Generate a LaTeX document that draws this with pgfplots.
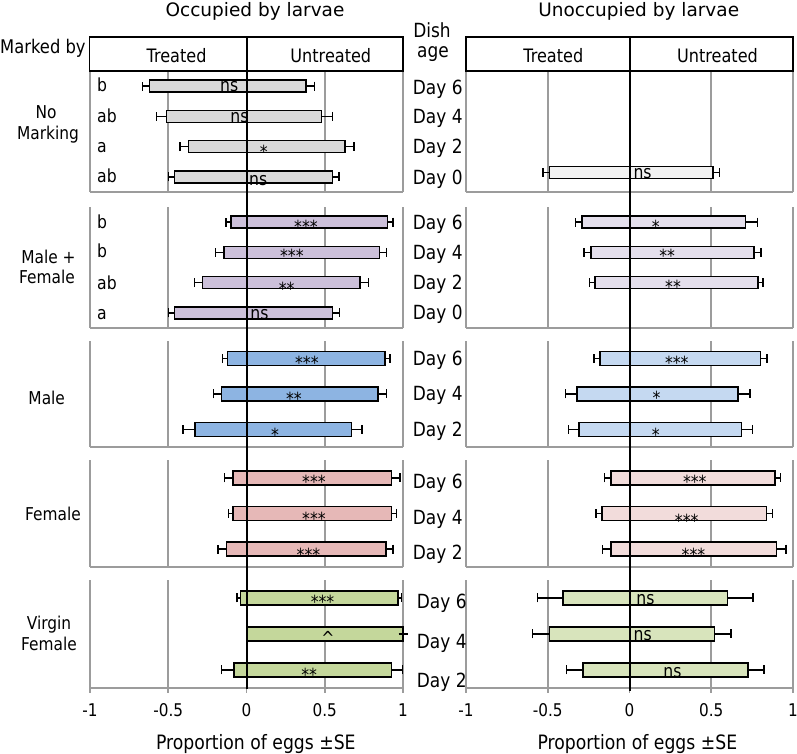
\documentclass[border=0pt]{standalone}
\usepackage{fontspec}
\setmainfont{DejaVu Sans}
\newfontfamily\cf{DejaVu Sans}[FakeStretch=0.87]
\usepackage{pgfplots}
\usepackage{pgfplotstable}
\pgfplotsset{compat=1.18}

\definecolor{gridgray}{HTML}{9C9C9C}
\definecolor{noA}{HTML}{D9D9D9}
\definecolor{noB}{HTML}{F2F2F2}
\definecolor{mfA}{HTML}{CCC0DA}
\definecolor{mfB}{HTML}{E4DFEC}
\definecolor{mA}{HTML}{8DB4E2}
\definecolor{mB}{HTML}{C5D9F1}
\definecolor{fA}{HTML}{E6B8B7}
\definecolor{fB}{HTML}{F2DCDB}
\definecolor{vA}{HTML}{C4D79B}
\definecolor{vB}{HTML}{D8E4BC}

% d = dish age slot (0 = Day 0 or Day 2 at the bottom), t = treated (negative), u = untreated
\pgfplotstableread{
d t te u ue
3 -0.62 0.045 0.38 0.055
2 -0.51 0.065 0.48 0.068
1 -0.37 0.055 0.63 0.057
0 -0.46 0.040 0.55 0.042
}\occNo
\pgfplotstableread{
d t te u ue
0 -0.49 0.038 0.51 0.040
}\unoNo
\pgfplotstableread{
d t te u ue
3 -0.10 0.032 0.90 0.036
2 -0.145 0.053 0.85 0.046
1 -0.28 0.053 0.725 0.055
0 -0.46 0.040 0.55 0.044
}\occMF
\pgfplotstableread{
d t te u ue
3 -0.29 0.041 0.71 0.074
2 -0.235 0.043 0.76 0.043
1 -0.21 0.035 0.785 0.031
}\unoMF
\pgfplotstableread{
d t te u ue
2 -0.12 0.032 0.885 0.032
1 -0.16 0.051 0.84 0.055
0 -0.33 0.076 0.67 0.067
}\occM
\pgfplotstableread{
d t te u ue
2 -0.18 0.037 0.80 0.040
1 -0.32 0.071 0.665 0.073
0 -0.31 0.063 0.685 0.067
}\unoM
\pgfplotstableread{
d t te u ue
2 -0.085 0.054 0.925 0.055
1 -0.085 0.030 0.925 0.032
0 -0.128 0.054 0.89 0.045
}\occF
\pgfplotstableread{
d t te u ue
2 -0.113 0.041 0.889 0.033
1 -0.167 0.039 0.838 0.037
0 -0.113 0.052 0.90 0.057
}\unoF
% Day 4: all eggs on untreated, no treated bar
\pgfplotstableread{
d t te u ue
2 -0.038 0.022 0.968 0.022
1 nan 0 1.0 0
0 -0.081 0.079 0.925 0.072
}\occV
\pgfplotstableread{
d t te u ue
2 -0.407 0.155 0.60 0.155
1 -0.488 0.105 0.52 0.100
0 -0.284 0.100 0.725 0.097
}\unoV

\pgfplotsset{
  panel/.style={
    scale only axis, anchor=north west, clip=false,
    xmin=-1, xmax=1, ymin=-0.5,
    axis y line=none, axis x line*=bottom,
    x axis line style={draw=gridgray, line width=1.6pt, -},
    xtick={-1,-0.5,0,0.5,1}, xticklabels={}, ytick=\empty,
    xtick style={draw=none},
    xmajorgrids, major grid style={draw=gridgray, line width=1.6pt},
  },
  bottomticks/.style={tick align=outside, major tick length=5pt,
    xtick style={draw=gridgray, line width=1.6pt}},
  bars/.style={xbar, bar shift=0pt, draw=black, line width=1.5pt,
    error bars/error mark=|,
    error bars/error bar style={line width=1.5pt, black},
    error bars/error mark options={black, line width=1.5pt, mark size=4.5pt}},
}

\newcommand\twobars[3]{%
  \addplot[bars, fill=#2, bar width=#3, error bars/.cd, x dir=minus, x explicit]
    table[x=t, y=d, x error=te] {#1};
  \addplot[bars, fill=#2, bar width=#3, error bars/.cd, x dir=plus, x explicit]
    table[x=u, y=d, x error=ue] {#1};
}
\newcommand\sig[4]{\node[anchor=base, inner sep=0pt, yshift=-#3pt,
  font=\cf\fontsize{18}{20}\selectfont] at (axis cs:#1,#2) {#4};}
\newcommand\ticks{%
  \node[tl] at (axis cs:-1,-0.5) {-1};
  \node[tl] at (axis cs:-0.5,-0.5) {-0.5};
  \node[tl] at (axis cs:0,-0.5) {0};
  \node[tl] at (axis cs:0.5,-0.5) {0.5};
  \node[tl] at (axis cs:1,-0.5) {1};}

\tikzset{
  lab/.style={font=\cf\fontsize{17.7}{20}\selectfont, inner sep=0pt},
  day/.style={font=\cf\fontsize{19.5}{22}\selectfont, inner sep=0pt, anchor=base west},
  let/.style={font=\cf\fontsize{18}{20}\selectfont, inner sep=0pt, anchor=base west},
  tl/.style={font=\cf\fontsize{17.5}{19}\selectfont, inner sep=0pt, anchor=base, yshift=-28.7pt},
}

\begin{document}
\begin{tikzpicture}[x=1pt, y=1pt]
\useasboundingbox (0pt,0pt) rectangle (797pt,754pt);

% ---- occupied (left column)
\begin{axis}[panel, at={(90pt,683pt)}, width=313pt, height=121pt, ymax=3.5]
\twobars{\occNo}{noA}{12pt}
\sig{-0.11}{3}{5.7}{ns}
\sig{-0.045}{2}{6}{ns}
\sig{0.11}{1}{12}{*}
\sig{0.075}{0}{9}{ns}
\end{axis}
\begin{axis}[panel, at={(90pt,547pt)}, width=313pt, height=121pt, ymax=3.5]
\twobars{\occMF}{mfA}{12pt}
\sig{0.38}{3}{11}{***}
\sig{0.29}{2}{10.5}{***}
\sig{0.257}{1}{12.5}{**}
\sig{0.083}{0}{6.6}{ns}
\end{axis}
\begin{axis}[panel, at={(90pt,413pt)}, width=313pt, height=106pt, ymax=2.5]
\twobars{\occM}{mA}{14pt}
\sig{0.386}{2}{11}{***}
\sig{0.303}{1}{12}{**}
\sig{0.182}{0}{12}{*}
\end{axis}
\begin{axis}[panel, at={(90pt,294pt)}, width=313pt, height=107pt, ymax=2.5]
\twobars{\occF}{fA}{14pt}
\sig{0.431}{2}{10.5}{***}
\sig{0.431}{1}{12.3}{***}
\sig{0.396}{0}{12.8}{***}
\end{axis}
\begin{axis}[panel, bottomticks, at={(90pt,174pt)}, width=313pt, height=108pt, ymax=2.5]
\twobars{\occV}{vA}{14pt}
\sig{0.486}{2}{10.8}{***}
\sig{0.52}{1}{11}{\textasciicircum}
\sig{0.40}{0}{11.3}{**}
\ticks
\end{axis}

% ---- unoccupied (right column)
\begin{axis}[panel, at={(466pt,683pt)}, width=327pt, height=121pt, ymin=-0.65, ymax=3.35]
\twobars{\unoNo}{noB}{12pt}
\sig{0.08}{0}{6}{ns}
\end{axis}
\begin{axis}[panel, at={(466pt,547pt)}, width=327pt, height=121pt, ymax=3.5]
\twobars{\unoMF}{mfB}{12pt}
\sig{0.16}{3}{11.5}{*}
\sig{0.23}{2}{10.5}{**}
\sig{0.266}{1}{10.5}{**}
\end{axis}
\begin{axis}[panel, at={(466pt,413pt)}, width=327pt, height=106pt, ymax=2.5]
\twobars{\unoM}{mB}{14pt}
\sig{0.289}{2}{10.5}{***}
\sig{0.166}{1}{10.7}{*}
\sig{0.16}{0}{11.7}{*}
\end{axis}
\begin{axis}[panel, at={(466pt,294pt)}, width=327pt, height=107pt, ymax=2.5]
\twobars{\unoF}{fB}{14pt}
\sig{0.399}{2}{11}{***}
\sig{0.35}{1}{13.7}{***}
\sig{0.391}{0}{12.8}{***}
\end{axis}
\begin{axis}[panel, bottomticks, at={(466pt,174pt)}, width=327pt, height=108pt, ymax=2.5]
\twobars{\unoV}{vB}{14pt}
\sig{0.097}{2}{6.3}{ns}
\sig{0.081}{1}{6.3}{ns}
\sig{0.263}{0}{7.7}{ns}
\ticks
\end{axis}

% ---- header boxes and zero lines
\draw[line width=1.6pt] (89.5pt,717pt) rectangle (403pt,683pt);
\draw[line width=1.6pt] (466pt,717pt) rectangle (793pt,683pt);
\draw[line width=2pt] (246.5pt,717pt) -- (246.5pt,65pt);
\draw[line width=2pt] (629.5pt,717pt) -- (629.5pt,63pt);

% ---- titles
\node[anchor=base, inner sep=0pt, font=\fontsize{18.5}{22}\selectfont] at (255pt,737pt) {Occupied by larvae};
\node[anchor=base, inner sep=0pt, font=\fontsize{18.5}{22}\selectfont] at (638.7pt,737pt) {Unoccupied by larvae};
\node[lab, anchor=base, font=\cf\fontsize{18.5}{20}\selectfont] at (176.5pt,691.3pt) {Treated};
\node[lab, anchor=base, font=\cf\fontsize{18.5}{20}\selectfont] at (330.8pt,691.3pt) {Untreated};
\node[lab, anchor=base, font=\cf\fontsize{18.5}{20}\selectfont] at (553.3pt,691.3pt) {Treated};
\node[lab, anchor=base, font=\cf\fontsize{18.5}{20}\selectfont] at (717.5pt,691.3pt) {Untreated};

% ---- row labels
\node[lab, anchor=base west, font=\cf\fontsize{18.8}{20}\selectfont] at (0pt,700.7pt) {Marked by};
\node[lab, anchor=base] at (46pt,635pt) {No};
\node[lab, anchor=base] at (48pt,614pt) {Marking};
\node[lab, anchor=base] at (48.5pt,490.7pt) {Male +};
\node[lab, anchor=base] at (47pt,470.7pt) {Female};
\node[lab, anchor=base] at (46.7pt,349pt) {Male};
\node[lab, anchor=base] at (53pt,233.3pt) {Female};
\node[lab, anchor=base] at (49pt,124pt) {Virgin};
\node[lab, anchor=base] at (49pt,103.3pt) {Female};

% ---- letters of the occupied panels
\node[let] at (97pt,662.3pt) {b};
\node[let] at (97pt,631pt) {ab};
\node[let] at (97pt,601.5pt) {a};
\node[let] at (97pt,571pt) {ab};
\node[let] at (97pt,525.7pt) {b};
\node[let] at (97pt,496.3pt) {b};
\node[let] at (97pt,464pt) {ab};
\node[let] at (97pt,434.7pt) {a};

% ---- dish age
\node[day, anchor=base] at (432pt,716.7pt) {Dish};
\node[day, anchor=base] at (433pt,696.7pt) {age};
\node[day] at (412.7pt,659.7pt) {Day 6};
\node[day] at (412.7pt,630pt) {Day 4};
\node[day] at (412.7pt,600.7pt) {Day 2};
\node[day] at (412.7pt,569pt) {Day 0};
\node[day] at (412.7pt,524.7pt) {Day 6};
\node[day] at (412.7pt,494.7pt) {Day 4};
\node[day] at (412.7pt,464.7pt) {Day 2};
\node[day] at (412.7pt,434.7pt) {Day 0};
\node[day] at (412.7pt,388pt) {Day 6};
\node[day] at (412.7pt,353pt) {Day 4};
\node[day] at (412.7pt,317.3pt) {Day 2};
\node[day] at (412.7pt,265pt) {Day 6};
\node[day] at (412.7pt,229pt) {Day 4};
\node[day] at (412.7pt,194pt) {Day 2};
\node[day] at (416.7pt,145pt) {Day 6};
\node[day] at (416.7pt,105.7pt) {Day 4};
\node[day] at (416.7pt,66.7pt) {Day 2};

% ---- x labels
\node[anchor=base, inner sep=0pt, font=\cf\fontsize{19.8}{22}\selectfont] at (255.8pt,4pt) {Proportion of eggs ±SE};
\node[anchor=base, inner sep=0pt, font=\cf\fontsize{19.8}{22}\selectfont] at (637.3pt,4pt) {Proportion of eggs ±SE};
\end{tikzpicture}
\end{document}
